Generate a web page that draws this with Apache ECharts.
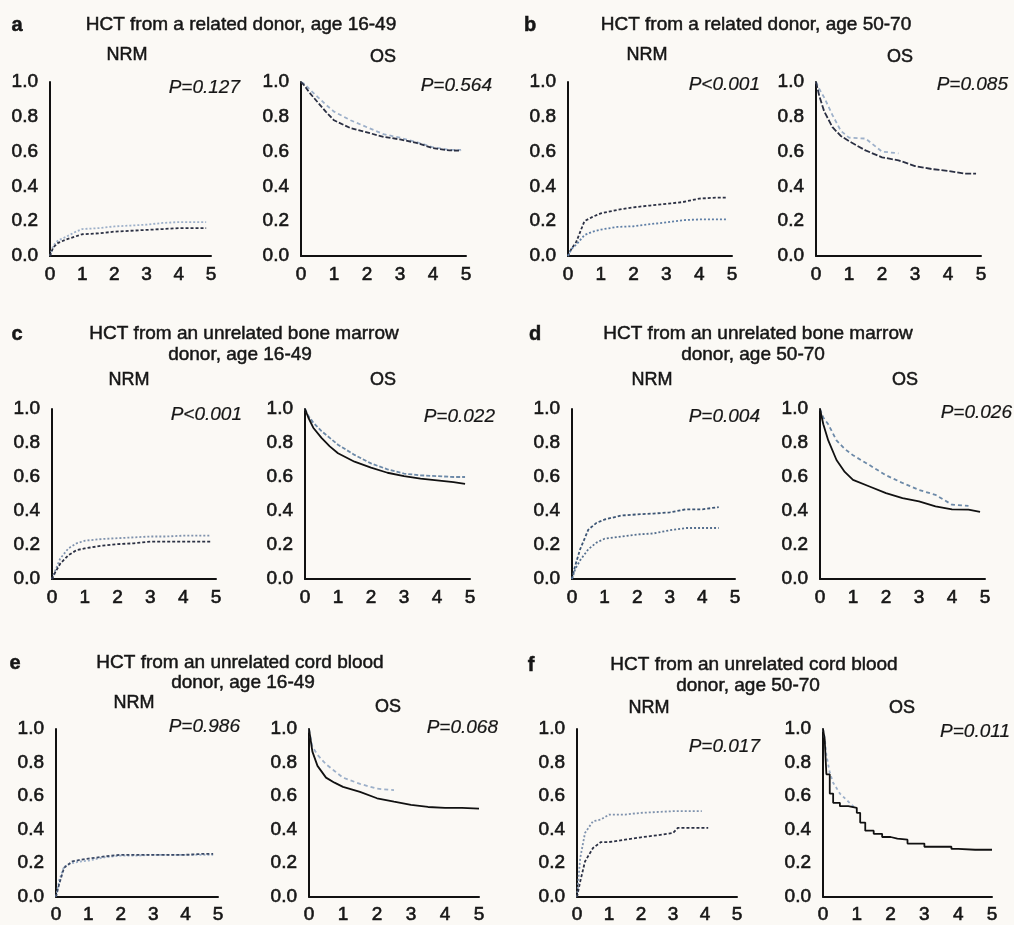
<!DOCTYPE html>
<html>
<head>
<meta charset="utf-8">
<title>NRM and OS by donor type and age</title>
<script src="https://cdn.jsdelivr.net/npm/echarts@6/dist/echarts.min.js"></script>
<style>
  html, body { margin: 0; padding: 0; background: #fbf9f5; }
  #chart { width: 1014px; height: 925px; }
</style>
</head>
<body>
<div id="chart"></div>
<script>
  // years after HCT, used by most of the curves
  const tStd = [0, 0.1, 0.25, 0.5, 0.75, 1, 1.5, 2, 2.5, 3, 3.5, 4, 4.5, 4.85]
  const xTickLabels = ['0', '1', '2', '3', '4', '5']
  const yTickLabels = ['0.0', '0.2', '0.4', '0.6', '0.8', '1.0']

  const panelLetters = ['a', 'b', 'c', 'd', 'e', 'f']
  const panelTitles = [
    ['HCT from a related donor, age 16-49'],
    ['HCT from a related donor, age 50-70'],
    ['HCT from an unrelated bone marrow', 'donor, age 16-49'],
    ['HCT from an unrelated bone marrow', 'donor, age 50-70'],
    ['HCT from an unrelated cord blood', 'donor, age 16-49'],
    ['HCT from an unrelated cord blood', 'donor, age 50-70']
  ]
  const endpoints = ['NRM', 'OS']
  const pValues = [
    'P=0.127', 'P=0.564', 'P<0.001', 'P=0.085',
    'P<0.001', 'P=0.022', 'P=0.004', 'P=0.026',
    'P=0.986', 'P=0.068', 'P=0.017', 'P=0.011'
  ]

  // a: related, 16-49
  const aNrmLight = [0, 0.06, 0.09, 0.11, 0.135, 0.155, 0.16, 0.17, 0.175, 0.18, 0.19, 0.195, 0.195, 0.195]
  const aNrmDark = [0, 0.05, 0.075, 0.095, 0.11, 0.125, 0.13, 0.14, 0.145, 0.15, 0.155, 0.16, 0.16, 0.16]
  const aOsDark = [1, 0.98, 0.94, 0.885, 0.83, 0.78, 0.735, 0.71, 0.685, 0.67, 0.65, 0.62, 0.607, 0.605]
  const aOsLight = [1, 0.99, 0.96, 0.915, 0.87, 0.83, 0.78, 0.74, 0.7, 0.68, 0.655, 0.625, 0.61, 0.61]

  // b: related, 50-70
  const bNrmDark = [0, 0.04, 0.08, 0.2, 0.225, 0.245, 0.265, 0.28, 0.29, 0.3, 0.31, 0.33, 0.335, 0.335]
  const bNrmLight = [0, 0.04, 0.065, 0.12, 0.14, 0.152, 0.167, 0.171, 0.183, 0.193, 0.206, 0.21, 0.21, 0.21]
  const bOsDark = [1, 0.92, 0.83, 0.74, 0.69, 0.66, 0.607, 0.567, 0.55, 0.517, 0.5, 0.489, 0.473, 0.473]
  const bOsLight = [1, 0.96, 0.91, 0.81, 0.72, 0.68, 0.675, 0.6, 0.59, null, null, null, null, null]

  // c: unrelated marrow, 16-49
  const cNrmLight = [0, 0.05, 0.12, 0.18, 0.21, 0.225, 0.235, 0.24, 0.245, 0.25, 0.25, 0.255, 0.255, 0.255]
  const cNrmDark = [0, 0.04, 0.09, 0.14, 0.17, 0.18, 0.195, 0.205, 0.21, 0.22, 0.22, 0.22, 0.22, 0.22]
  const cOsLight = [1, 0.96, 0.92, 0.87, 0.83, 0.79, 0.73, 0.68, 0.645, 0.62, 0.61, 0.605, 0.6, 0.6]
  const cOsDark = [1, 0.95, 0.89, 0.83, 0.78, 0.74, 0.69, 0.655, 0.625, 0.605, 0.59, 0.58, 0.57, 0.56]

  // d: unrelated marrow, 50-70
  const dNrmDark = [0, 0.08, 0.175, 0.29, 0.33, 0.35, 0.373, 0.38, 0.385, 0.392, 0.41, 0.41, 0.423, null]
  const dNrmLight = [0, 0.06, 0.11, 0.175, 0.214, 0.237, 0.25, 0.262, 0.268, 0.287, 0.3, 0.3, 0.3, null]
  const dOsDark = [1, 0.91, 0.815, 0.7, 0.63, 0.583, 0.544, 0.505, 0.476, 0.456, 0.427, 0.41, 0.408, 0.395]
  const dOsLight = [1, 0.95, 0.91, 0.815, 0.765, 0.728, 0.67, 0.61, 0.565, 0.524, 0.495, 0.437, 0.43, null]

  // e: unrelated cord blood, 16-49
  const eNrmDark = [0, 0.077, 0.173, 0.21, 0.22, 0.227, 0.24, 0.25, 0.25, 0.25, 0.25, 0.25, 0.255, 0.255]
  const eNrmLight = [0, 0.1, 0.18, 0.2, 0.21, 0.215, 0.235, 0.245, 0.245, 0.25, 0.25, 0.25, 0.25, 0.25]
  const eOsT = [0, 0.1, 0.25, 0.5, 0.75, 1, 1.5, 2, 2.5, 3, 3.5, 4, 4.5, 5]
  const eOsDark = [1, 0.865, 0.78, 0.71, 0.68, 0.655, 0.625, 0.587, 0.567, 0.548, 0.535, 0.53, 0.53, 0.525]
  const eOsLight = [1, 0.894, 0.846, 0.79, 0.75, 0.71, 0.673, 0.644, 0.635, null, null, null, null, null]

  // f: unrelated cord blood, 50-70
  const fNrmT = [0, 0.1, 0.25, 0.5, 0.75, 1, 1.5, 2, 2.5, 3, 3.15, 3.5, 3.9, 4.1]
  const fNrmLight = [0, 0.23, 0.38, 0.45, 0.46, 0.49, 0.49, 0.5, 0.505, 0.51, 0.51, 0.51, 0.51, null]
  const fNrmDark = [0, 0.09, 0.21, 0.29, 0.326, 0.326, 0.34, 0.354, 0.366, 0.38, 0.41, 0.41, 0.41, 0.41]
  const fOsT = [0, 0.05, 0.1, 0.2, 0.3, 0.5, 0.75, 1, 1.1, 1.25, 1.5, 1.75, 2, 2.2, 2.5, 3, 3.5, 3.8, 4, 4.5, 5]
  const fOsDark = [1, 0.94, 0.73, 0.615, 0.56, 0.54, 0.53, 0.5, 0.442, 0.394, 0.375, 0.356, 0.346, 0.34, 0.317, 0.298, 0.298, 0.285, 0.28, 0.28, 0.28]
  const fOsLightT = [0, 0.05, 0.1, 0.2, 0.3, 0.5, 0.75, 1]
  const fOsLight = [1, 0.95, 0.846, 0.74, 0.68, 0.615, 0.567, 0.52]

  // plot boxes, row by row: a-NRM, a-OS, b-NRM, b-OS, ...
  const boxes = [
    [50, 82, 161, 174], [301, 82, 165, 174], [568, 82, 164, 174], [816, 82, 165, 174],
    [52, 409, 164, 170], [305, 409, 165, 170], [572, 409, 163, 170], [820, 409, 165, 170],
    [56, 729, 162, 172], [309, 729, 170, 172], [577, 729, 160, 172], [823, 729, 169, 172]
  ]

  const FONT = '"Liberation Sans", Arial, sans-serif'
  const INK = '#161616'
  const DARK = '#2b3043'
  const LIGHT = '#9db0c9'

  const dotted = { dark: [3, 2], light: [2, 2] }

  const curve = (idx, t, v, color, dash) => ({
    type: 'line',
    xAxisIndex: idx,
    yAxisIndex: idx,
    showSymbol: false,
    silent: true,
    data: t.map((x, i) => (v[i] == null ? null : [x, v[i]])).filter(Boolean),
    lineStyle: { color: color, width: 1.8, type: dash }
  })

  const series = [
    curve(0, tStd, aNrmLight, LIGHT, dotted.light),
    curve(0, tStd, aNrmDark, DARK, dotted.dark),
    curve(1, tStd, aOsLight, LIGHT, [4, 3]),
    curve(1, tStd, aOsDark, DARK, [5, 2]),
    curve(2, tStd, bNrmDark, DARK, dotted.dark),
    curve(2, tStd, bNrmLight, '#5f7fa6', dotted.light),
    curve(3, tStd, bOsLight, LIGHT, [4, 3]),
    curve(3, tStd, bOsDark, DARK, [6, 2]),
    curve(4, tStd, cNrmLight, '#7f92ad', dotted.light),
    curve(4, tStd, cNrmDark, DARK, dotted.dark),
    curve(5, tStd, cOsLight, '#6d8aa8', [4, 2]),
    curve(5, tStd, cOsDark, '#111', 'solid'),
    curve(6, tStd, dNrmDark, '#3d5675', dotted.dark),
    curve(6, tStd, dNrmLight, '#56708f', dotted.light),
    curve(7, tStd, dOsLight, '#6d8aa8', [4, 3]),
    curve(7, tStd, dOsDark, '#111', 'solid'),
    curve(8, tStd, eNrmLight, LIGHT, dotted.light),
    curve(8, tStd, eNrmDark, '#3b4a66', dotted.dark),
    curve(9, eOsT, eOsLight, LIGHT, [4, 3]),
    curve(9, eOsT, eOsDark, '#111', 'solid'),
    curve(10, fNrmT, fNrmLight, '#7f92ad', dotted.light),
    curve(10, fNrmT, fNrmDark, DARK, dotted.dark),
    curve(11, fOsLightT, fOsLight, LIGHT, [3, 3]),
    Object.assign(curve(11, fOsT, fOsDark, '#111', 'solid'), { step: 'end' })
  ]

  const grid = boxes.map(b => ({ left: b[0], top: b[1], width: b[2], height: b[3] }))

  // a thin outline of the same colour gives the scanned, medium-weight look
  const tickText = {
    color: INK,
    fontFamily: FONT,
    fontSize: 19,
    textBorderColor: INK,
    textBorderWidth: 0.6
  }

  const xAxis = boxes.map((b, i) => ({
    type: 'value',
    gridIndex: i,
    min: 0,
    max: 5,
    interval: 1,
    axisLine: { show: true, lineStyle: { color: '#111', width: 2 } },
    axisTick: { show: false },
    splitLine: { show: false },
    axisLabel: Object.assign({ margin: 9, formatter: v => xTickLabels[Math.round(v)] }, tickText)
  }))

  const yAxis = boxes.map((b, i) => ({
    type: 'value',
    gridIndex: i,
    min: 0,
    max: 1,
    interval: 0.2,
    axisLine: { show: true, lineStyle: { color: '#111', width: 2 } },
    axisTick: { show: false },
    splitLine: { show: false },
    axisLabel: Object.assign({ margin: 12, formatter: v => yTickLabels[Math.round(v * 5)] }, tickText)
  }))

  const text = (x, y, str, opts) => ({
    type: 'text',
    x: x,
    y: y,
    silent: true,
    style: Object.assign({
      text: str,
      fill: INK,
      stroke: INK,
      lineWidth: 0.5,
      fontFamily: FONT,
      fontSize: 19,
      align: 'center',
      verticalAlign: 'middle'
    }, opts || {})
  })

  // letter x, title centre x, title line y's for each panel
  const titlePos = [
    { lx: 17, cx: [241], ly: [25] },
    { lx: 530, cx: [756], ly: [25] },
    { lx: 17, cx: [244, 240], ly: [334, 355] },
    { lx: 535, cx: [758, 753], ly: [334, 355] },
    { lx: 15, cx: [240, 243], ly: [663, 683] },
    { lx: 531, cx: [754, 748], ly: [665, 686] }
  ]
  const subPos = [
    [127, 55], [383, 57], [647, 55], [900, 57],
    [129, 380], [383, 380], [652, 380], [905, 380],
    [134, 703], [388, 707], [649, 708], [902, 708]
  ]
  const pPos = [
    [240, 88], [492, 86], [760, 85], [1008, 85],
    [242, 415], [495, 417], [760, 417], [1012, 413],
    [240, 727], [498, 728], [760, 747], [1010, 732]
  ]

  const graphic = []
  panelTitles.forEach((lines, k) => {
    const p = titlePos[k]
    graphic.push(text(p.lx, p.ly[0], panelLetters[k], { fontWeight: 'bold', fontSize: 20 }))
    lines.forEach((s, j) => graphic.push(text(p.cx[j], p.ly[j], s)))
  })
  subPos.forEach((p, i) => graphic.push(text(p[0], p[1], endpoints[i % 2], { fontSize: 18 })))
  pPos.forEach((p, i) => graphic.push(text(p[0], p[1], pValues[i], { align: 'right', fontStyle: 'italic', fontSize: 19, lineWidth: 0.2 })))

  const chart = echarts.init(document.getElementById('chart'))
  chart.setOption({
    backgroundColor: '#fbf9f5',
    animation: false,
    grid: grid,
    xAxis: xAxis,
    yAxis: yAxis,
    series: series,
    graphic: graphic
  })
</script>
</body>
</html>
